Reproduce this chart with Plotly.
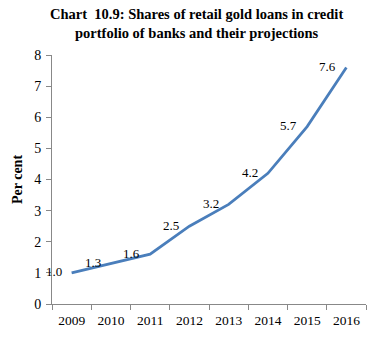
import plotly.graph_objects as go

years = ["2009", "2010", "2011", "2012", "2013", "2014", "2015", "2016"]
shares = [1.0, 1.3, 1.6, 2.5, 3.2, 4.2, 5.7, 7.6]
labels = ["1.0", "1.3", "1.6", "2.5", "3.2", "4.2", "5.7", "7.6"]

FONT = "Liberation Serif"

fig = go.Figure()
fig.add_trace(go.Scatter(
    x=years, y=shares, mode="lines",
    line=dict(color="#4a7ebb", width=2.75),
    hoverinfo="skip",
))

for i, (y, t) in enumerate(zip(shares, labels)):
    fig.add_annotation(
        x=i, y=y, text=t, showarrow=False,
        xanchor="right", yanchor="middle", xshift=-8, yshift=1,
        font=dict(family=FONT, size=13, color="black"),
    )

fig.add_annotation(
    xref="paper", yref="paper", x=0.46, y=1.0, yshift=51,
    xanchor="center", yanchor="top", showarrow=False,
    text="<b>Chart  10.9: Shares of retail gold loans in credit<br>portfolio of banks and their projections</b>",
    font=dict(family=FONT, size=14.5, color="black"),
)

fig.update_layout(
    width=375, height=337,
    margin=dict(l=52, r=9, t=55, b=33),
    paper_bgcolor="white", plot_bgcolor="white",
    showlegend=False,
    font=dict(family=FONT, size=13, color="black"),
)
fig.update_xaxes(
    type="category", range=[-0.5, 7.5], showgrid=False, showline=True, linecolor="#888888",
    ticks="outside", tickson="boundaries", ticklen=5, tickcolor="#888888",
    ticklabelstandoff=4,
    tickfont=dict(family=FONT, size=13.5, color="black"),
)
fig.update_yaxes(
    range=[0, 8], dtick=1, showgrid=False, showline=True, linecolor="#888888",
    ticks="outside", ticklen=5, tickcolor="#888888", zeroline=False,
    ticklabelstandoff=2,
    tickfont=dict(family=FONT, size=14, color="black"),
    title=dict(text="<b>Per cent</b>", font=dict(family=FONT, size=14, color="black"), standoff=8),
)

fig.write_html("out.html")
